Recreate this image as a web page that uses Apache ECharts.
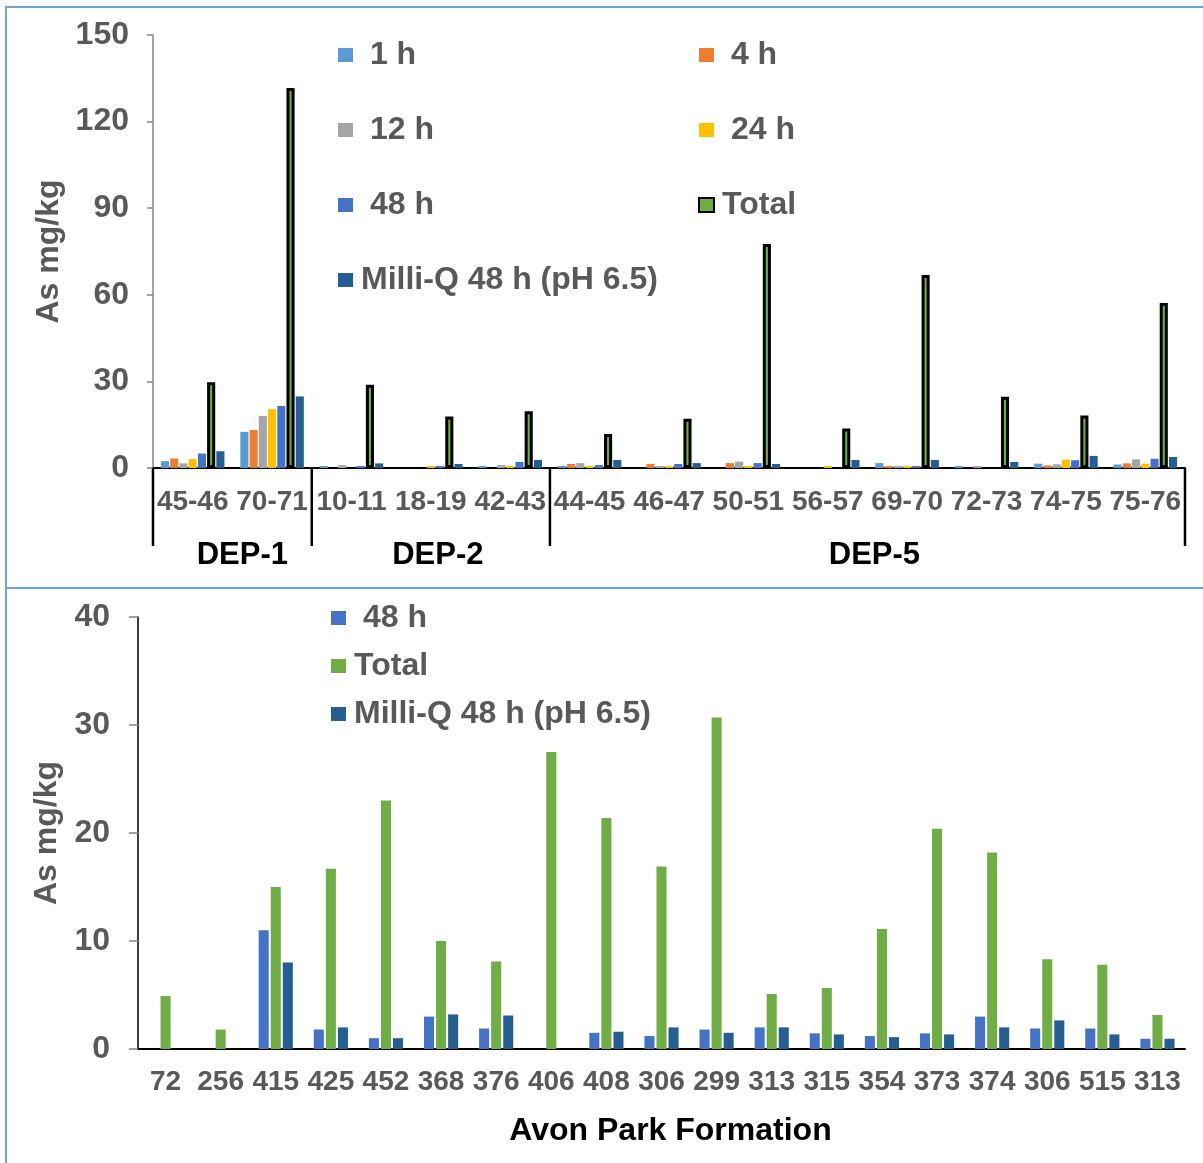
<!DOCTYPE html>
<html>
<head>
<meta charset="utf-8">
<script src="https://cdn.jsdelivr.net/npm/echarts@6/dist/echarts.min.js"></script>
<style>
  html, body { margin: 0; padding: 0; background: #fff; }
  #page { position: relative; width: 1203px; height: 1163px; overflow: hidden; background: #fff; }
  #chartTop { position: absolute; left: 0; top: 0; width: 1203px; height: 589px; }
  #chartBottom { position: absolute; left: 0; top: 589px; width: 1203px; height: 574px; }
  .frame { position: absolute; background: #6FA3DA; z-index: 5; }
</style>
</head>
<body>
<div id="page">
  <div id="chartTop"></div>
  <div id="chartBottom"></div>
  <div class="frame" style="left:5px; top:6px; width:2px; height:1157px;"></div>
  <div class="frame" style="left:5px; top:6px; width:1198px; height:2px;"></div>
  <div class="frame" style="left:5px; top:587px; width:1198px; height:2px;"></div>
</div>
<script>
// ---- Upper panel: DEP wells, leaching time series (As mg/kg) ----
const topCategories = ['45-46', '70-71', '10-11', '18-19', '42-43', '44-45', '46-47',
  '50-51', '56-57', '69-70', '72-73', '74-75', '75-76'];
const groupNames = ['DEP-1', 'DEP-2', 'DEP-5'];
const groupStarts = [0, 2, 5];
const groupEnds = [1, 4, 12];

const as1h = [2.4, 12.5, 0.7, 0, 0.7, 0.7, 0, 0, 0, 1.7, 0.7, 1.5, 1.2];
const as4h = [3.3, 13.2, 0, 0, 0, 1.4, 1.4, 1.7, 0, 0.7, 0, 0.9, 1.6];
const as12h = [1.6, 18.0, 1.0, 0, 1.0, 1.7, 0.7, 2.2, 0, 0.7, 0.7, 1.3, 3.0];
const as24h = [3.1, 20.4, 0, 0.7, 0.7, 0.7, 0.7, 0.7, 0.7, 0.7, 0, 2.9, 1.5];
const as48h = [5.0, 21.5, 0.7, 0.7, 2.1, 1.0, 1.4, 1.7, 0, 0.7, 0, 2.7, 3.2];
const asTotal = [29.7, 131.6, 28.8, 17.8, 19.7, 11.8, 17.1, 77.6, 13.7, 66.9, 24.7, 18.2, 57.2];
const asMilliQ = [5.8, 24.8, 1.6, 1.4, 2.8, 2.8, 1.7, 1.4, 2.8, 2.8, 2.1, 4.2, 3.8];
const topTicks = { min: 0, max: 150, interval: 30 };

// ---- Lower panel: Avon Park Formation samples ----
const avonCategories = ['72', '256', '415', '425', '452', '368', '376', '406', '408', '306',
  '299', '313', '315', '354', '373', '374', '306', '515', '313'];
const avon48h = [0, 0, 11.0, 1.8, 1.0, 3.0, 1.9, 0, 1.5, 1.2, 1.8, 2.0, 1.45, 1.2, 1.45, 3.0, 1.9, 1.9, 0.95];
const avonTotal = [4.9, 1.8, 15.0, 16.7, 23.0, 10.0, 8.1, 27.5, 21.4, 16.9, 30.7, 5.1, 5.65, 11.1, 20.4, 18.2, 8.3, 7.8, 3.15];
const avonMilliQ = [0, 0, 8.0, 2.0, 1.0, 3.2, 3.1, 0, 1.6, 2.0, 1.5, 2.0, 1.35, 1.1, 1.35, 2.0, 2.65, 1.35, 0.95];
const avonTicks = { min: 0, max: 40, interval: 10 };

const FONT = '"Liberation Sans", Arial, sans-serif';
const GREY = '#595959';
const COLORS = {
  '1 h': '#5B9BD5', '4 h': '#ED7D31', '12 h': '#A5A5A5', '24 h': '#FFC000',
  '48 h': '#4472C4', 'Total': '#70AD47', 'Milli-Q 48 h (pH 6.5)': '#255E91'
};

function legendName(name) {
  // time-series entries carry a leading space in the key
  return (name === 'Total' || name.indexOf('Milli') === 0) ? name : ' ' + name;
}

function legendBlock(names, left, top, gap) {
  return {
    data: names, orient: 'vertical', left: left, top: top, itemGap: gap,
    icon: 'rect', itemWidth: 15, itemHeight: 14,
    formatter: legendName,
    textStyle: { fontFamily: FONT, fontSize: 32, fontWeight: 'bold', color: GREY,
      lineHeight: 30, padding: [0, 0, 0, 3] }
  };
}

function yAxisCommon(t, margin, tickLen, lineColor, gap) {
  return {
    type: 'value', min: t.min, max: t.max, interval: t.interval,
    name: 'As mg/kg', nameLocation: 'middle', nameGap: gap,
    nameTextStyle: { fontFamily: FONT, fontSize: 32, fontWeight: 'bold', color: GREY },
    axisLine: { show: true, lineStyle: { color: lineColor, width: 1.5 } },
    axisTick: { show: true, length: tickLen, lineStyle: { color: '#868686', width: 1.5 } },
    splitLine: { show: false },
    axisLabel: { margin: margin, fontFamily: FONT, fontSize: 32, fontWeight: 'bold', color: GREY }
  };
}

function barSeries(name, data, extra, catGap, barGap) {
  return Object.assign({
    type: 'bar', name: name, data: data,
    barCategoryGap: catGap, barGap: barGap,
    itemStyle: { color: COLORS[name] },
    emphasis: { disabled: true }
  }, extra || {});
}

// ---- Upper chart ----
const chartTop = echarts.init(document.getElementById('chartTop'), null, { renderer: 'canvas' });
const tc = '20%', tg = '14%';
chartTop.setOption({
  animation: false,
  grid: { left: 153, right: 18, top: 35, height: 433 },
  legend: [
    legendBlock(['1 h', '12 h', '48 h', 'Milli-Q 48 h (pH 6.5)'], 333, 34, 43),
    legendBlock(['4 h', '24 h', 'Total'], 693, 34, 43)
  ],
  xAxis: {
    type: 'category', data: topCategories,
    axisLine: { lineStyle: { color: '#000', width: 2 } },
    axisTick: { show: false },
    axisLabel: { interval: 0, margin: 20, fontFamily: FONT, fontSize: 28, fontWeight: 'bold', color: GREY }
  },
  yAxis: yAxisCommon(topTicks, 24, 6, '#868686', 86),
  series: [
    barSeries('1 h', as1h, null, tc, tg),
    barSeries('4 h', as4h, null, tc, tg),
    barSeries('12 h', as12h, null, tc, tg),
    barSeries('24 h', as24h, null, tc, tg),
    barSeries('48 h', as48h, null, tc, tg),
    barSeries('Total', asTotal, { itemStyle: { color: COLORS['Total'], borderColor: '#000', borderWidth: 3 } }, tc, tg),
    barSeries('Milli-Q 48 h (pH 6.5)', asMilliQ, null, tc, tg)
  ]
});

// Well-group dividers and captions beneath the depth labels
(function addGroups() {
  const c0 = chartTop.convertToPixel({ xAxisIndex: 0 }, 0);
  const c1 = chartTop.convertToPixel({ xAxisIndex: 0 }, 1);
  const bw = c1 - c0;
  const y0 = chartTop.convertToPixel({ yAxisIndex: 0 }, 0);
  const edges = [];
  groupStarts.forEach(s => edges.push(chartTop.convertToPixel({ xAxisIndex: 0 }, s) - bw / 2));
  edges.push(chartTop.convertToPixel({ xAxisIndex: 0 }, groupEnds[groupEnds.length - 1]) + bw / 2);
  const elements = edges.map(x => ({
    type: 'line', shape: { x1: x, y1: y0, x2: x, y2: y0 + 78 },
    style: { stroke: '#000', lineWidth: 2.5 }, z: 10
  }));
  const nudge = [10, 7, 7];
  groupNames.forEach((g, i) => {
    const left = chartTop.convertToPixel({ xAxisIndex: 0 }, groupStarts[i]) - bw / 2;
    const right = chartTop.convertToPixel({ xAxisIndex: 0 }, groupEnds[i]) + bw / 2;
    elements.push({
      type: 'text', x: (left + right) / 2 + nudge[i], y: y0 + 87,
      style: { text: g, fontFamily: FONT, fontSize: 31, fontWeight: 'bold', fill: '#000',
        align: 'center', verticalAlign: 'middle' }, z: 10
    });
  });
  chartTop.setOption({ graphic: elements });
})();

// ---- Lower chart ----
const chartBottom = echarts.init(document.getElementById('chartBottom'), null, { renderer: 'canvas' });
const bc = '38%', bg = '20%';
chartBottom.setOption({
  animation: false,
  grid: { left: 138, right: 18, top: 28, height: 432 },
  legend: [legendBlock(['48 h', 'Total', 'Milli-Q 48 h (pH 6.5)'], 326, 8, 16)],
  xAxis: {
    type: 'category', data: avonCategories,
    name: 'Avon Park Formation', nameLocation: 'middle', nameGap: 66,
    nameTextStyle: { fontFamily: FONT, fontSize: 32, fontWeight: 'bold', color: '#000', padding: [0, 0, 0, 18] },
    axisLine: { lineStyle: { color: '#000', width: 2 } },
    axisTick: { show: false },
    axisLabel: { interval: 0, margin: 19, fontFamily: FONT, fontSize: 28, fontWeight: 'bold', color: GREY }
  },
  yAxis: yAxisCommon(avonTicks, 28, 9, '#000', 71),
  series: [
    barSeries('48 h', avon48h, null, bc, bg),
    barSeries('Total', avonTotal, null, bc, bg),
    barSeries('Milli-Q 48 h (pH 6.5)', avonMilliQ, null, bc, bg)
  ]
});
</script>
</body>
</html>
